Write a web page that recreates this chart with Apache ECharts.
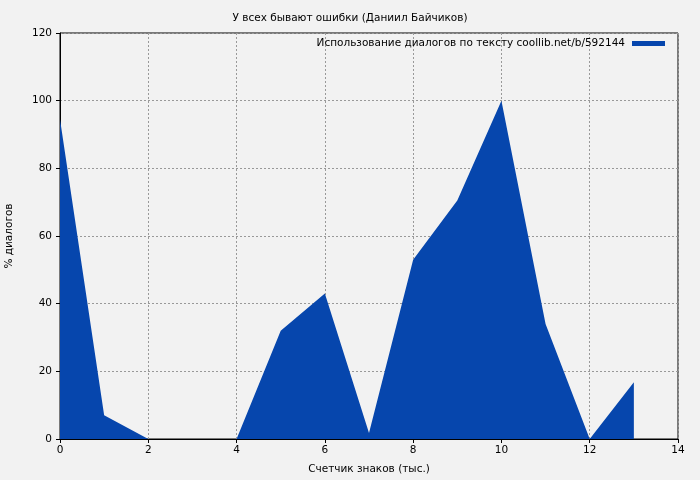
<!DOCTYPE html>
<html><head><meta charset="utf-8">
<script src="https://cdn.jsdelivr.net/npm/echarts@6/dist/echarts.min.js"></script>
<style>html,body{margin:0;padding:0;background:#f2f2f2}#c{width:700px;height:480px}</style>
</head><body><div id="c"></div>
<script>
const titleText = 'У всех бывают ошибки (Даниил Байчиков)';
const seriesName = 'Использование диалогов по тексту coollib.net/b/592144';
const xName = 'Счетчик знаков (тыс.)';
const yName = '% диалогов';
const xValues = [0, 1, 2, 3, 4, 5, 6, 7, 8, 9, 10, 11, 12, 13];
const yValues = [94.5, 7, 0, 0, 0, 32, 43, 1.8, 53, 70.5, 100, 34, 0, 16.8];

const font = 'DejaVu Sans';
const chart = echarts.init(document.getElementById('c'), null, {renderer: 'canvas'});
chart.setOption({
  backgroundColor: '#f2f2f2',
  animation: false,
  textStyle: {fontFamily: font},
  title: {text: titleText, left: 'center', top: 8,
    textStyle: {fontFamily: font, fontSize: 10.5, fontWeight: 'normal', color: '#000'}},
  legend: {right: 30, top: 33, align: 'right', itemWidth: 33, itemHeight: 5, itemGap: 0,
    icon: 'rect', textStyle: {fontFamily: font, fontSize: 10.5, color: '#000', padding: [0, 2, 0, 0]},
    data: [seriesName]},
  grid: {left: 60, right: 22, top: 33, bottom: 41, outerBoundsMode: 'none', containLabel: false,
    show: true, borderColor: '#000', borderWidth: 1, backgroundColor: 'transparent'},
  xAxis: {type: 'value', min: 0, max: 14, interval: 2, name: xName, nameLocation: 'middle', nameGap: 25,
    nameTextStyle: {fontFamily: font, fontSize: 10.5, color: '#000'},
    axisLine: {show: true, onZero: false, lineStyle: {color: '#000'}},
    axisTick: {show: true, length: 4, inside: false, lineStyle: {color: '#000'}},
    axisLabel: {fontFamily: font, fontSize: 10.5, color: '#000', margin: 6},
    splitLine: {show: true, lineStyle: {color: '#999', type: [2, 2]}}},
  yAxis: {type: 'value', min: 0, max: 120, interval: 20, name: yName, nameLocation: 'middle', nameGap: 45, nameRotate: 90,
    nameTextStyle: {fontFamily: font, fontSize: 10.5, color: '#000'},
    axisLine: {show: true, lineStyle: {color: '#000'}},
    axisTick: {show: true, length: 4, lineStyle: {color: '#000'}},
    axisLabel: {fontFamily: font, fontSize: 10.5, color: '#000', margin: 8},
    splitLine: {show: true, lineStyle: {color: '#999', type: [2, 2]}}},
  series: [{
    name: seriesName, type: 'line', symbol: 'none',
    data: xValues.map((x, i) => [x, yValues[i]]),
    itemStyle: {color: '#0646ad'},
    lineStyle: {width: 0, color: '#0646ad'},
    areaStyle: {color: '#0646ad', opacity: 1}
  }]
});
</script></body></html>
